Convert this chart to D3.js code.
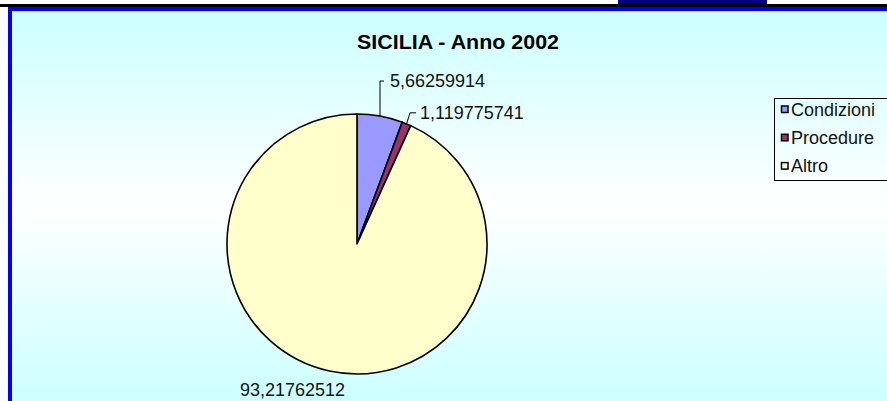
<!DOCTYPE html>
<html>
<head>
<meta charset="utf-8">
<script src="https://cdn.jsdelivr.net/npm/d3@7.9.0/dist/d3.min.js"></script>
<style>
  html, body { margin: 0; padding: 0; background: #fff; }
  svg { display: block; font-family: "Liberation Sans", Arial, sans-serif; }
</style>
</head>
<body>
<div id="chart"></div>
<script>
// ---------------------- Data ----------------------
const title = 'SICILIA - Anno 2002';
const categories = ['Condizioni', 'Procedure', 'Altro'];
const values = [5.66259914, 1.119775741, 93.21762512];
const sliceColors = ['#9999FF', '#993366', '#FFFFCC'];

// ---------------------- Frame ----------------------
const width = 887, height = 401;
const svg = d3.select('#chart').append('svg')
  .attr('width', width).attr('height', height);

const defs = svg.append('defs');
const grad = defs.append('linearGradient')
  .attr('id', 'bg').attr('x1', 0).attr('y1', 0).attr('x2', 0).attr('y2', 1);
grad.append('stop').attr('offset', '0%').attr('stop-color', '#CCFFFF');
grad.append('stop').attr('offset', '50%').attr('stop-color', '#FFFFFF');
grad.append('stop').attr('offset', '100%').attr('stop-color', '#CCFFFF');

// top decorations
svg.append('rect').attr('x', 618).attr('y', 0).attr('width', 149).attr('height', 4).attr('fill', '#000080');
svg.append('rect').attr('x', 0).attr('y', 4).attr('width', width).attr('height', 3).attr('fill', '#000');
// blue border + chart area
svg.append('rect').attr('x', 8).attr('y', 7).attr('width', width - 8).attr('height', height - 7).attr('fill', '#0000FF');
svg.append('rect').attr('x', 12).attr('y', 11).attr('width', width - 12).attr('height', height - 11).attr('fill', 'url(#bg)');

// ---------------------- Title ----------------------
svg.append('text')
  .attr('x', 458).attr('y', 49)
  .attr('text-anchor', 'middle')
  .attr('font-weight', 'bold')
  .attr('font-size', 20)
  .attr('textLength', 202).attr('lengthAdjust', 'spacingAndGlyphs')
  .text(title);

// ---------------------- Pie ----------------------
const cx = 357, cy = 244, radius = 130;
const data = categories.map((c, i) => ({ name: c, value: values[i], color: sliceColors[i] }));
const arcs = d3.pie().sort(null).value(d => d.value)(data);
const arc = d3.arc().innerRadius(0).outerRadius(radius);
const edgeArc = d3.arc().innerRadius(radius).outerRadius(radius);

const g = svg.append('g').attr('transform', `translate(${cx},${cy})`);
g.selectAll('path.slice')
  .data(arcs)
  .join('path')
  .attr('class', 'slice')
  .attr('d', arc)
  .attr('fill', d => d.data.color)
  .attr('stroke', '#000')
  .attr('stroke-width', 1.6)
  .attr('stroke-linejoin', 'round');

// ---------------------- Labels ----------------------
const fmt = v => String(v).replace('.', ',');
const fontSize = 18;

// leader-line label offsets relative to the slice edge point
const leader = [
  { up: 35, dx: 0, tick: 4, gap: 6 },
  { up: 11, dx: 3.5, tick: 6, gap: 4 },
  null
];

arcs.forEach((a, i) => {
  const [ex, ey] = edgeArc.centroid(a);
  const px = cx + ex, py = cy + ey;
  const L = leader[i];
  if (L) {
    const bx = px + L.dx, by = py - L.up;
    svg.append('path')
      .attr('d', `M${px},${py}L${bx},${by}L${bx + L.tick},${by}`)
      .attr('fill', 'none').attr('stroke', '#000').attr('stroke-width', 1);
    svg.append('text')
      .attr('x', bx + L.tick + L.gap).attr('y', by)
      .attr('dy', '0.35em')
      .attr('font-size', fontSize)
      .attr('fill', '#111')
      .text(fmt(a.data.value));
  } else {
    svg.append('text')
      .attr('x', px - 37).attr('y', py + 19)
      .attr('dy', '0.35em')
      .attr('text-anchor', 'middle')
      .attr('font-size', fontSize)
      .attr('fill', '#111')
      .text(fmt(a.data.value));
  }
});

// ---------------------- Legend ----------------------
const legend = svg.append('g').attr('transform', 'translate(774.5,98.5)');
legend.append('rect')
  .attr('width', 140).attr('height', 82)
  .attr('fill', 'none').attr('stroke', '#000').attr('stroke-width', 1);

const items = legend.selectAll('g.item')
  .data(data)
  .join('g')
  .attr('class', 'item')
  .attr('transform', (d, i) => `translate(7,${7.5 + i * 28.3})`);

items.append('rect')
  .attr('width', 6.5).attr('height', 6.5)
  .attr('fill', d => d.color)
  .attr('stroke', '#000').attr('stroke-width', 1.5);

items.append('text')
  .attr('x', 9.5).attr('y', 3.5)
  .attr('dy', '0.35em')
  .attr('font-size', fontSize)
  .attr('fill', '#111')
  .text(d => d.name);
</script>
</body>
</html>
